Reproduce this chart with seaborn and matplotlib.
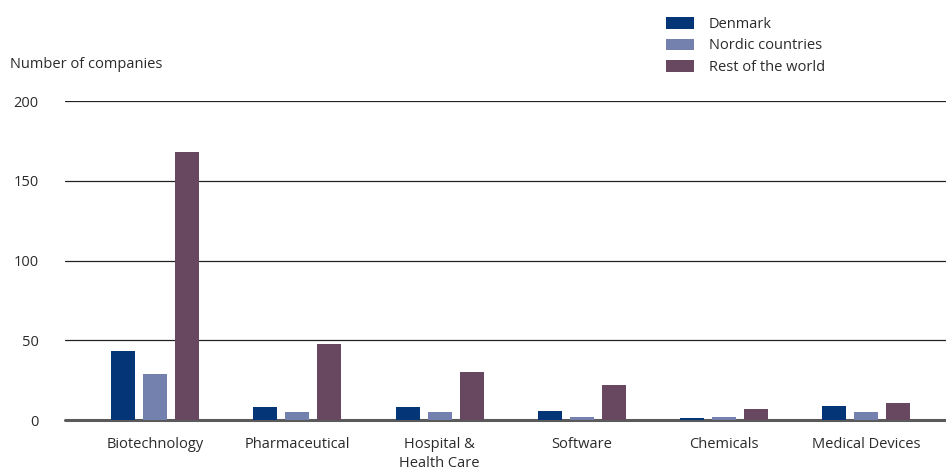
import matplotlib
matplotlib.use("Agg")
import matplotlib.pyplot as plt
import seaborn as sns
import pandas as pd

categories = ["Biotechnology", "Pharmaceutical", "Hospital &\nHealth Care",
              "Software", "Chemicals", "Medical Devices"]
denmark = [43, 8, 8, 6, 1, 9]
nordic = [29, 5, 5, 2, 2, 5]
rest_of_world = [168, 48, 30, 22, 7, 11]
series_names = ["Denmark", "Nordic countries", "Rest of the world"]
y_ticks = [0, 50, 100, 150, 200]

colors = ["#043577", "#7480ae", "#674860"]

rows = []
for name, vals in zip(series_names, [denmark, nordic, rest_of_world]):
    for cat, v in zip(categories, vals):
        rows.append({"category": cat, "region": name, "count": v})
df = pd.DataFrame(rows)

sns.set_theme(style="white")
plt.rcParams["font.family"] = ["Open Sans", "DejaVu Sans"]
text_color = "#2b2b2b"

fig = plt.figure(figsize=(9.46, 4.72), dpi=100)
ax = fig.add_axes([0.0687, 0.110, 0.9313, 0.676])

sns.barplot(data=df, x="category", y="count", hue="region",
            order=categories, hue_order=series_names, palette=colors,
            width=0.676, gap=0.25, saturation=1, ax=ax, legend=True,
            linewidth=0, edgecolor="none", zorder=3)

ax.set_xlim(-0.634, 5.56)
ax.set_ylim(0, 200)
ax.set_yticks(y_ticks)
for t in y_ticks[1:]:
    ax.axhline(t, color="#222222", lw=0.9, zorder=0)
ax.axhline(0, color="#5a5a5a", lw=2.2, zorder=1, clip_on=False)

for s in ax.spines.values():
    s.set_visible(False)
ax.tick_params(axis="both", length=0, labelsize=10.5, colors=text_color)
ax.tick_params(axis="y", pad=19)
ax.tick_params(axis="x", pad=12)
for lab in ax.get_yticklabels():
    lab.set_horizontalalignment("right")
for lab in ax.get_xticklabels():
    lab.set_linespacing(1.35)
ax.set_xlabel("")
ax.set_ylabel("")

fig.text(10 / 946, 1 - 65 / 472, "Number of companies", fontsize=10.5,
         color=text_color, va="center", ha="left")

handles, labels = ax.get_legend_handles_labels()
ax.get_legend().remove()
fig.legend(handles, labels, loc="upper left",
           bbox_to_anchor=(660 / 946, 1 - 11 / 472), frameon=False,
           fontsize=10.5, labelcolor=text_color, handlelength=1.9,
           handleheight=0.85, handletextpad=1.05, labelspacing=0.45,
           borderaxespad=0)

fig.savefig("out.png", dpi=100)
